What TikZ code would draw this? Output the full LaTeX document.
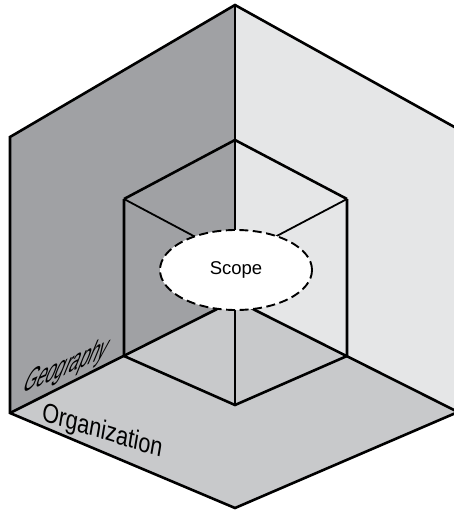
\documentclass[tikz,border=0pt]{standalone}
\usepackage{fontspec}
\setmainfont{Liberation Sans}
\usepackage{tikz}
\usetikzlibrary{shapes.geometric}

\definecolor{wallleft}{RGB}{160,161,164}
\definecolor{wallright}{RGB}{229,230,231}
\definecolor{floorgray}{RGB}{200,201,203}

\begin{document}
\begin{tikzpicture}[x=1pt, y=-1pt, line join=miter,
    edge/.style={line width=2.6pt},
    inner/.style={line width=1.8pt},
    scopeoval/.style={ellipse, draw, fill=white, line width=1.9pt,
      dash pattern=on 9pt off 4.5pt, minimum width=152pt, minimum height=80pt,
      inner sep=0pt, font=\fontsize{18.5}{22}\selectfont},
    walllabel/.style={inner sep=0pt, font=\fontsize{24}{28}\selectfont}]
      \useasboundingbox (0,0) rectangle (454,511);
      \clip (0,0) rectangle (454,511);
      % Outer corner: two walls and the floor
      \coordinate (top) at (235,5);
      \coordinate (lftup) at (10,137);
      \coordinate (lftlow) at (10,413);
      \coordinate (bot) at (235,508);
      \coordinate (rgtup) at (458,129);
      \coordinate (rgtlow) at (458,412);
      \coordinate (mid) at (235,300);

      % Inner cube
      \coordinate (ctop) at (235,140);
      \coordinate (cl) at (124,199);
      \coordinate (cr) at (347,199);
      \coordinate (clb) at (124,356);
      \coordinate (crb) at (347,356);
      \coordinate (cbot) at (235,405);
      \coordinate (cmid) at (235,258);

      \fill[wallleft] (top) -- (lftup) -- (lftlow) -- (mid) -- cycle;
      \fill[wallright] (top) -- (rgtup) -- (rgtlow) -- (mid) -- cycle;
      \fill[floorgray] (lftlow) -- (bot) -- (rgtlow) -- (mid) -- cycle;

      \draw[edge] (top) -- (lftup) -- (lftlow) -- (bot) -- (rgtlow) -- (rgtup) -- cycle;
      \draw[edge] (top) -- (mid);
      \draw[edge] (lftlow) -- (mid);
      \draw[edge] (rgtlow) -- (mid);

      \draw[edge] (cl) -- (ctop) -- (cr);
      \draw[edge] (cl) -- (clb) -- (cbot) -- (crb) -- (cr);
      \draw[inner] (cl) -- (cmid);
      \draw[inner] (cr) -- (cmid);
      \draw[inner] (cbot) -- (mid);

      \node[scopeoval] (scope) at (236,270) {Scope};

      % slanted labels lying on the wall and on the floor
      \node[walllabel, anchor=base west, cm={0.70,0.30,0.58,1.42,(0,0)}] (geo) at (21,394) {Geography};
      \node[walllabel, anchor=base west, cm={0.88,-0.275,0.19,1.10,(0,0)}] (org) at (41,420) {Organization};
    \end{tikzpicture}
\end{document}
